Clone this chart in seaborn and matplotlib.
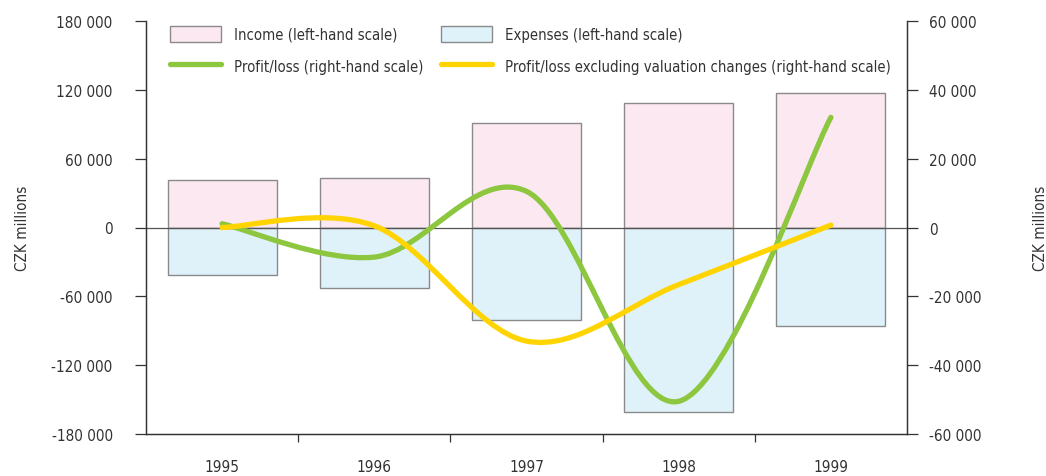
import numpy as np
import pandas as pd
import matplotlib
matplotlib.use("Agg")
import matplotlib.pyplot as plt
from matplotlib.path import Path
from matplotlib.patches import PathPatch, Patch
from matplotlib.lines import Line2D
from matplotlib.ticker import FuncFormatter, FixedLocator
import seaborn as sns

years = ["1995", "1996", "1997", "1998", "1999"]
income = [41000, 43300, 91300, 108700, 117400]
expenses = [-41300, -52600, -81000, -160700, -86000]
profit = [1100, -8600, 10500, -50500, 32000]
profit_excl = [0, 500, -33000, -16600, 700]

INCOME_C = "#fce8f1"
EXP_C = "#dff2fa"
GREEN = "#8dc63f"
YELLOW = "#ffd400"
EDGE = "#8a8a8a"
TXT = "#333333"

sns.set_style("white")
plt.rcParams["font.family"] = ["DejaVu Sans"]
plt.rcParams["font.stretch"] = "condensed"
plt.rcParams["font.size"] = 11

df = pd.DataFrame({"year": years, "income": income, "expenses": expenses})

fig = plt.figure(figsize=(10.46, 4.77), dpi=100)
ax = fig.add_axes([146 / 1046, 42 / 477, 761 / 1046, 413 / 477])

sns.barplot(data=df, x="year", y="income", color=INCOME_C, width=0.716,
            edgecolor=EDGE, linewidth=1, saturation=1, ax=ax, zorder=2)
sns.barplot(data=df, x="year", y="expenses", color=EXP_C, width=0.716,
            edgecolor=EDGE, linewidth=1, saturation=1, ax=ax, zorder=2)
ax.axhline(0, color="#555555", lw=0.9, zorder=3)

ax.set_xlim(-0.5, 4.5)
ax.set_ylim(-180000, 180000)
ax.set_yticks(np.arange(-180000, 180001, 60000))
fmt = FuncFormatter(lambda v, p: f"{int(v):,}".replace(",", " "))
ax.yaxis.set_major_formatter(fmt)
ax.set_xlabel("")
ax.set_ylabel("CZK millions", color=TXT)
ax.yaxis.set_label_coords(-0.152, 0.5)
ax.tick_params(axis="y", direction="out", length=8, width=0.9, pad=16,
               colors=TXT, left=True)
ax.tick_params(axis="x", which="major", length=0, pad=18, colors=TXT)
ax.xaxis.set_minor_locator(FixedLocator([0.5, 1.5, 2.5, 3.5]))
ax.tick_params(axis="x", which="minor", direction="out", length=6,
               width=0.9, color=TXT, bottom=True)

ax2 = ax.twinx()
ax2.set_ylim(-60000, 60000)
ax2.set_yticks(np.arange(-60000, 60001, 20000))
ax2.yaxis.set_major_formatter(fmt)
ax2.set_ylabel("CZK millions", color=TXT)
ax2.yaxis.set_label_coords(1.165, 0.5)
ax2.tick_params(axis="y", direction="out", length=8, width=0.9, pad=8,
                colors=TXT, right=True)

for a in (ax, ax2):
    for s in ("left", "right", "bottom"):
        a.spines[s].set_color(TXT)
        a.spines[s].set_linewidth(0.9)
    a.spines["top"].set_visible(False)


def smooth_path(vals):
    # excel-like smoothing: cubic bezier with catmull-rom control points
    pts = [(i, v) for i, v in enumerate(vals)]
    verts = [pts[0]]
    codes = [Path.MOVETO]
    n = len(pts)
    for i in range(n - 1):
        p0 = pts[max(i - 1, 0)]
        p1 = pts[i]
        p2 = pts[i + 1]
        p3 = pts[min(i + 2, n - 1)]
        c1 = (p1[0] + (p2[0] - p0[0]) / 6, p1[1] + (p2[1] - p0[1]) / 6)
        c2 = (p2[0] - (p3[0] - p1[0]) / 6, p2[1] - (p3[1] - p1[1]) / 6)
        verts += [c1, c2, p2]
        codes += [Path.CURVE4] * 3
    return Path(verts, codes)


for vals, col in ((profit, GREEN), (profit_excl, YELLOW)):
    ax2.add_patch(PathPatch(smooth_path(vals), facecolor="none", edgecolor=col,
                            lw=3.8, capstyle="round", joinstyle="round", zorder=4))

handles = [
    Patch(facecolor=INCOME_C, edgecolor=EDGE, label="Income (left-hand scale)"),
    Patch(facecolor=EXP_C, edgecolor=EDGE, label="Expenses (left-hand scale)"),
    Line2D([], [], color=GREEN, lw=3.8, solid_capstyle="round", label="Profit/loss (right-hand scale)"),
    Line2D([], [], color=YELLOW, lw=3.8, solid_capstyle="round",
           label="Profit/loss excluding valuation changes (right-hand scale)"),
]
order = [handles[0], handles[2], handles[1], handles[3]]
leg = ax2.legend(handles=order, ncol=2, loc="upper left",
                 bbox_to_anchor=(0.0276, 0.996), frameon=False, borderaxespad=0,
                 borderpad=0.2, handlelength=3.4, handleheight=1.3,
                 handletextpad=0.9, columnspacing=1.2, labelspacing=1.05,
                 fontsize=10.7)
for t in leg.get_texts():
    t.set_color(TXT)

fig.savefig("out.png", dpi=100)
